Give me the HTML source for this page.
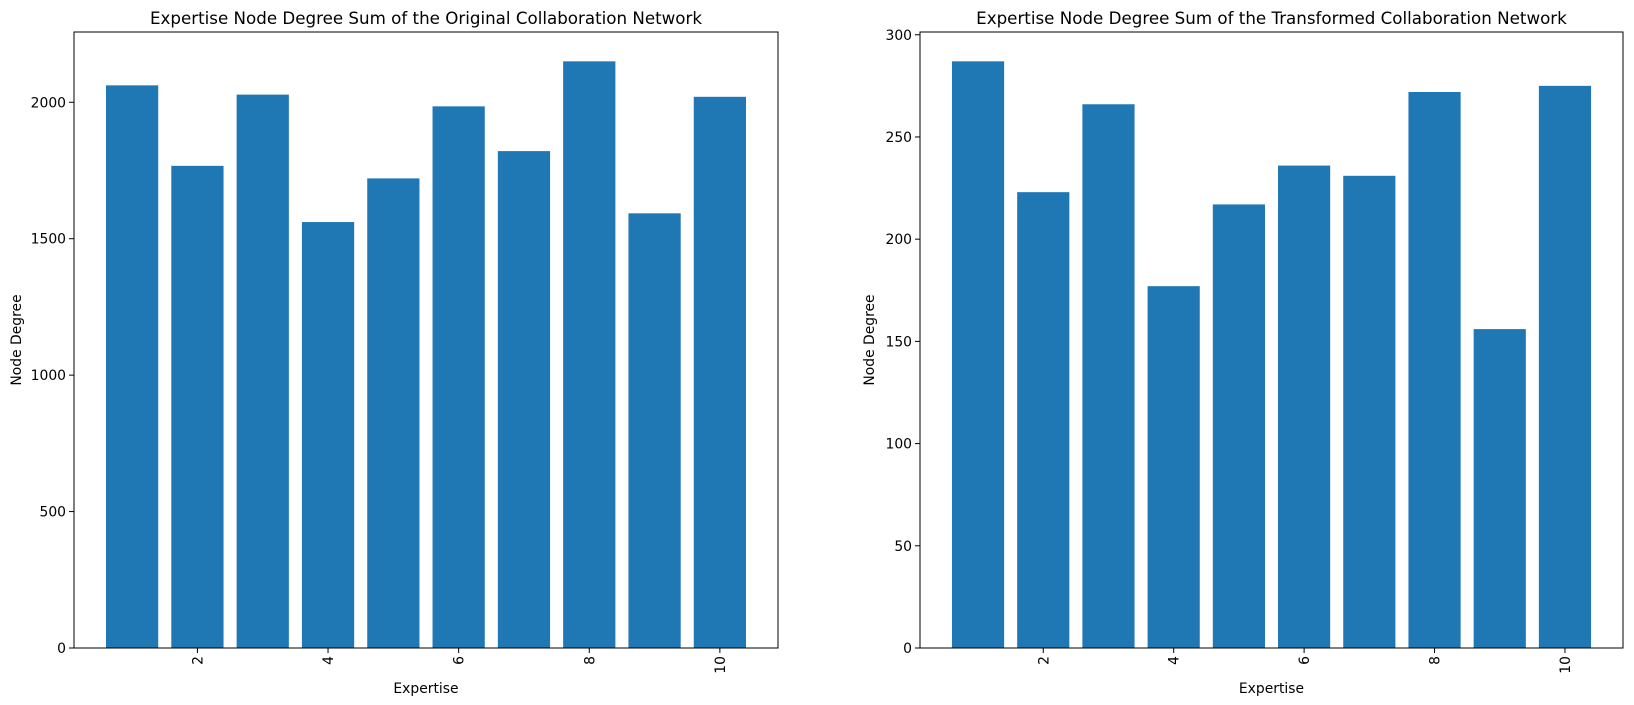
<!DOCTYPE html>
<html><head><meta charset="utf-8">
<style>
html,body{margin:0;padding:0;background:#fff;}
svg{display:block;font-family:"DejaVu Sans","Liberation Sans",sans-serif;}
</style></head>
<body>
<svg id="chart" width="1634" height="705" viewBox="0 0 1634 705" xmlns="http://www.w3.org/2000/svg"></svg>
<script>
const categories = [1,2,3,4,5,6,7,8,9,10];
const xTickLabels = [2,4,6,8,10];
const originalValues = [2062,1767,2028,1561,1721,1985,1821,2150,1593,2020];
const transformedValues = [287,223,266,177,217,236,231,272,156,275];
const originalYTicks = [0,500,1000,1500,2000];
const transformedYTicks = [0,50,100,150,200,250,300];

const NS = "http://www.w3.org/2000/svg";
const svg = document.getElementById('chart');
function mk(tag, attrs, parent){
  const e = document.createElementNS(NS, tag);
  for (const k in attrs) e.setAttribute(k, attrs[k]);
  (parent||svg).appendChild(e);
  return e;
}
function drawPanel(cfg){
  const g = mk('g', {});
  
  
  const L=cfg.left, R=cfg.right, T=32, B=648;
  const xmin=0.11, xmax=10.89;
  const ymax = Math.max(...cfg.values)*1.05;
  const xs = v => L + (v-xmin)/(xmax-xmin)*(R-L);
  const ys = v => B - v/ymax*(B-T);
  cfg.values.forEach((v,i)=>{
    const c = categories[i];
    const r = mk('rect', {x:xs(c-0.4), y:ys(v), width:xs(c+0.4)-xs(c-0.4), height:B-ys(v), fill:'#1f77b4'}, g);
    
    
  });
  const frame = mk('rect', {x:L, y:T, width:R-L, height:B-T, fill:'none', stroke:'#000', 'stroke-width':1}, g);
  
  
  cfg.yticks.forEach(t=>{
    const y = ys(t);
    mk('line', {x1:L-5, x2:L, y1:y, y2:y, stroke:'#000'}, g);
    const tx = mk('text', {x:L-8, y:y+5, 'text-anchor':'end', 'font-size':13.9, fill:'#000'}, g);
    tx.textContent = t;
    
    
  });
  xTickLabels.forEach(t=>{
    const x = xs(t);
    mk('line', {x1:x, x2:x, y1:B, y2:B+5, stroke:'#000'}, g);
    const tx = mk('text', {x:x+5, y:B+8, 'text-anchor':'end', 'font-size':13.9, fill:'#000', transform:`rotate(-90 ${x+5} ${B+8})`}, g);
    tx.textContent = t;
    
    
  });
  const title = mk('text', {x:(L+R)/2, y:24, 'text-anchor':'middle', 'font-size':16.7, fill:'#000'}, g);
  title.textContent = cfg.title;
  
  
  const xl = mk('text', {x:(L+R)/2, y:693, 'text-anchor':'middle', 'font-size':13.9, fill:'#000'}, g);
  xl.textContent = 'Expertise';
  
  
  const yx = cfg.ylabelX, yy=(T+B)/2;
  const yl = mk('text', {x:yx, y:yy, 'text-anchor':'middle', 'font-size':13.9, fill:'#000', transform:`rotate(-90 ${yx} ${yy})`}, g);
  yl.textContent = 'Node Degree';
  
  
}
drawPanel({name:'original-network-panel', left:74, right:778, values:originalValues, yticks:originalYTicks, ylabelX:21,
  title:'Expertise Node Degree Sum of the Original Collaboration Network'});
drawPanel({name:'transformed-network-panel', left:920, right:1623, values:transformedValues, yticks:transformedYTicks, ylabelX:874,
  title:'Expertise Node Degree Sum of the Transformed Collaboration Network'});
</script>
</body></html>
